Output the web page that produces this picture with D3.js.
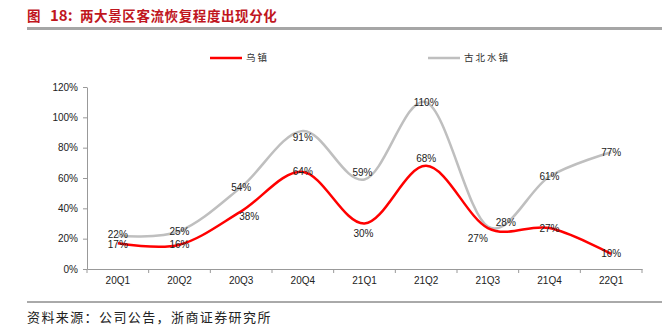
<!DOCTYPE html>
<html><head><meta charset="utf-8">
<script src="https://cdn.jsdelivr.net/npm/d3@7"></script>
<style>body{margin:0;background:#fff}svg{display:block}</style>
</head><body>
<svg id="c" width="662" height="329"></svg>
<script>
const categories = ["20Q1","20Q2","20Q3","20Q4","21Q1","21Q2","21Q3","21Q4","22Q1"];
const wuzhen = [17,16,38,64,30,68,27,27,10];
const gubei = [22,25,54,91,59,110,28,61,77];
const yTicks = [0,20,40,60,80,100,120];
const seriesNames = ["乌镇","古北水镇"];

const svg = d3.select("#c");
const x = d3.scaleBand().domain(categories).range([87,642]);
const y = d3.scaleLinear().domain([0,120]).range([269,87]);
const font = "'Liberation Sans', Arial, sans-serif";
const cjk = "'Noto Sans CJK SC', sans-serif";

// title
const title = [["图",27],["18:",50],["两大景区客流恢复程度出现分化",80]];
title.forEach(t=>{
  svg.append("text").attr("x",t[1]).attr("y",21).attr("fill","#C0161E")
    .attr("font-family",cjk).attr("font-weight","bold").attr("font-size",t[1]===50?15:13.5)
    .attr("letter-spacing",t[1]===80?0.6:0)
    .text(t[0]);
});
svg.append("rect").attr("x",27).attr("y",27).attr("width",635).attr("height",3).attr("fill","#A6A6A6");

// axes
const ya = d3.axisLeft(y).tickValues(yTicks).tickFormat(d=>d+"%").tickSize(4).tickSizeOuter(0);
const yg = svg.append("g").attr("transform","translate(87,0)").call(ya);
yg.selectAll("text").attr("font-family",font).attr("font-size",10).attr("fill","#222").attr("dx",-2);
yg.selectAll("line,path").attr("stroke","#999");

const xa = d3.axisBottom(x).tickSize(0);
const xg = svg.append("g").attr("transform","translate(0,269)").call(xa);
xg.select("path").attr("stroke","#999");
xg.selectAll("text").attr("font-family",font).attr("font-size",10).attr("fill","#222").attr("dy","1.2em");
xg.selectAll(".sep").data(d3.range(categories.length+1)).enter().append("line")
  .attr("x1",i=>87+i*x.bandwidth()).attr("x2",i=>87+i*x.bandwidth())
  .attr("y1",0).attr("y2",4).attr("stroke","#999");

const line = d3.line().x((d,i)=>x(categories[i])+x.bandwidth()/2).y(d=>y(d)).curve(d3.curveCardinal.tension(0));
svg.append("path").datum(gubei).attr("d",line).attr("fill","none").attr("stroke","#BFBFBF").attr("stroke-width",2.5);
svg.append("path").datum(wuzhen).attr("d",line).attr("fill","none").attr("stroke","#FF0000").attr("stroke-width",2.5);

// data labels (offsets relative to points)
const gOff = [[0,-1],[0,0],[0,0],[0,7],[-2,-7],[0,0],[18,-4],[0,0],[0,0]];
const rOff = [[0,1],[0,0],[8,5],[0,0],[-1,10],[0,-7],[-10,10],[0,0],[0,0]];
function labels(data, off){
  svg.append("g").selectAll("text").data(data).enter().append("text")
    .attr("x",(d,i)=>x(categories[i])+x.bandwidth()/2+off[i][0])
    .attr("y",(d,i)=>y(d)+off[i][1])
    .attr("dy","0.35em").attr("text-anchor","middle")
    .attr("font-family",font).attr("font-size",10).attr("fill","#222")
    .text(d=>d+"%");
}
labels(gubei,gOff);
labels(wuzhen,rOff);

// legend
const legend = [{name:seriesNames[0],color:"#FF0000",x:210},{name:seriesNames[1],color:"#BFBFBF",x:428}];
legend.forEach(l=>{
  svg.append("line").attr("x1",l.x).attr("x2",l.x+32).attr("y1",58).attr("y2",58).attr("stroke",l.color).attr("stroke-width",2.5);
  svg.append("text").attr("x",l.x+36).attr("y",58).attr("dy","0.35em")
    .attr("font-family",cjk).attr("font-size",9.5).attr("fill","#333").attr("letter-spacing",2).text(l.name);
});

// footer
svg.append("line").attr("x1",27).attr("x2",662).attr("y1",302).attr("y2",302).attr("stroke","#555").attr("stroke-width",1);
svg.append("text").attr("x",27).attr("y",322).attr("font-family",cjk).attr("font-size",13).attr("fill","#222")
  .attr("letter-spacing",1.4)
  .text("资料来源：公司公告，浙商证券研究所");
</script>
</body></html>
